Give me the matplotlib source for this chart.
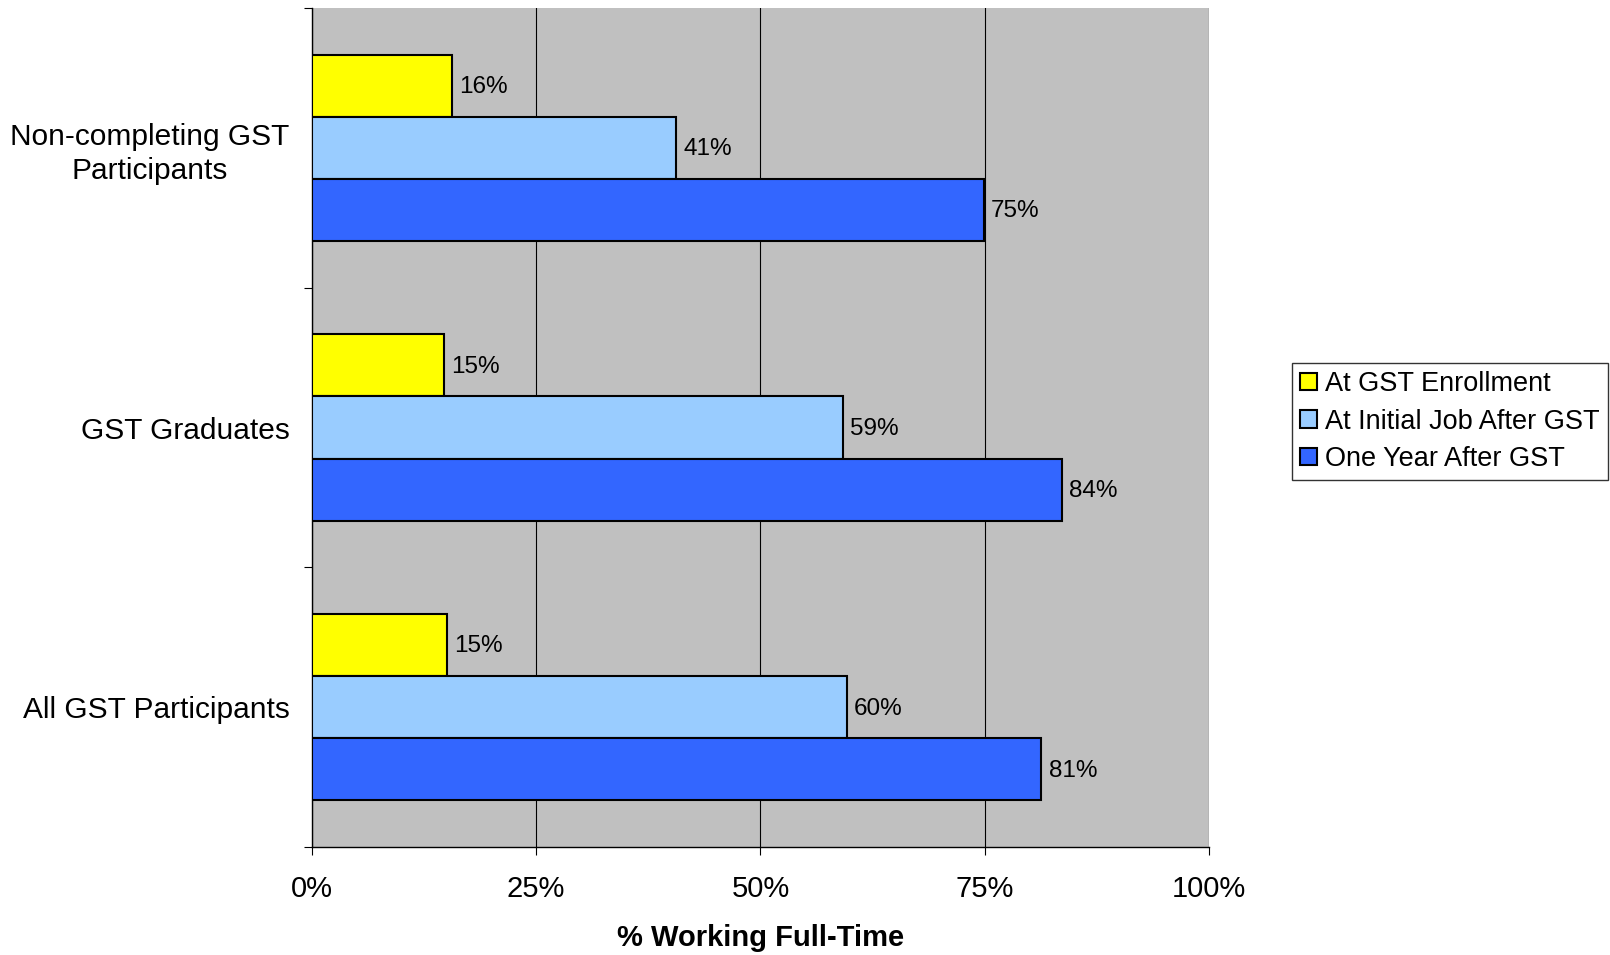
import numpy as np
import matplotlib.pyplot as plt
plt.switch_backend('agg')
import matplotlib.ticker as ticker

plt.rcParams['font.family'] = ['Liberation Sans', 'DejaVu Sans']

# groups listed bottom to top
groups = ['All GST Participants', 'GST Graduates', 'Non-completing GST\nParticipants']
series_names = ['At GST Enrollment', 'At Initial Job After GST', 'One Year After GST']
enrollment = [15.1, 14.7, 15.6]
initial_job = [59.6, 59.2, 40.6]
one_year = [81.3, 83.6, 74.9]
x_ticks = [0, 25, 50, 75, 100]

colors = ['#ffff00', '#99ccff', '#3366ff']
series = [enrollment, initial_job, one_year]

fig = plt.figure(figsize=(16.1, 9.55), dpi=100)
ax = fig.add_axes([0.1936, 0.1131, 0.5575, 0.8785])
ax.set_facecolor('#c0c0c0')

bar_h = 0.222
pos = np.arange(len(groups)) + 0.5
for k, (vals, c, name) in enumerate(zip(series, colors, series_names)):
    y = pos + (1 - k) * bar_h
    ax.barh(y, vals, height=bar_h, color=c, edgecolor='black', linewidth=1.5, label=name, zorder=3)
    for yy, v in zip(y, vals):
        ax.text(v + 0.8, yy - 0.005, '%d%%' % round(v), va='center', ha='left', fontsize=17.5, zorder=4)

ax.set_xlim(0, 100)
ax.set_ylim(0, len(groups))
ax.set_xticks(x_ticks)
ax.xaxis.set_major_formatter(ticker.FuncFormatter(lambda v, p: '%d%%' % v))
ax.grid(axis='x', color='black', linewidth=0.8, zorder=1)

ax.set_yticks(np.arange(len(groups) + 1))
ax.set_yticklabels([])
ax.set_yticks(pos, minor=True)
ax.set_yticklabels(groups, minor=True, fontsize=21.5, multialignment='center', linespacing=1.3)
ax.tick_params(axis='y', which='minor', length=0, pad=16)
ax.tick_params(axis='y', which='major', length=6, direction='out')
ax.tick_params(axis='x', length=6, direction='out', labelsize=21, pad=14)

for s in ['top', 'right']:
    ax.spines[s].set_visible(False)
ax.spines['left'].set_linewidth(1.0)
ax.spines['bottom'].set_linewidth(1.0)

ax.set_xlabel('% Working Full-Time', fontsize=21, fontweight='bold', labelpad=15)

leg = ax.legend(loc='center left', bbox_to_anchor=(1.0925, 0.507), fontsize=19.5, frameon=True,
                fancybox=False, edgecolor='black', handlelength=0.6, handleheight=0.6,
                handletextpad=0.3, borderpad=0.3, labelspacing=0.42, borderaxespad=0)
leg.get_frame().set_linewidth(1.0)

plt.savefig('out.png', dpi=100)
plt.close()
